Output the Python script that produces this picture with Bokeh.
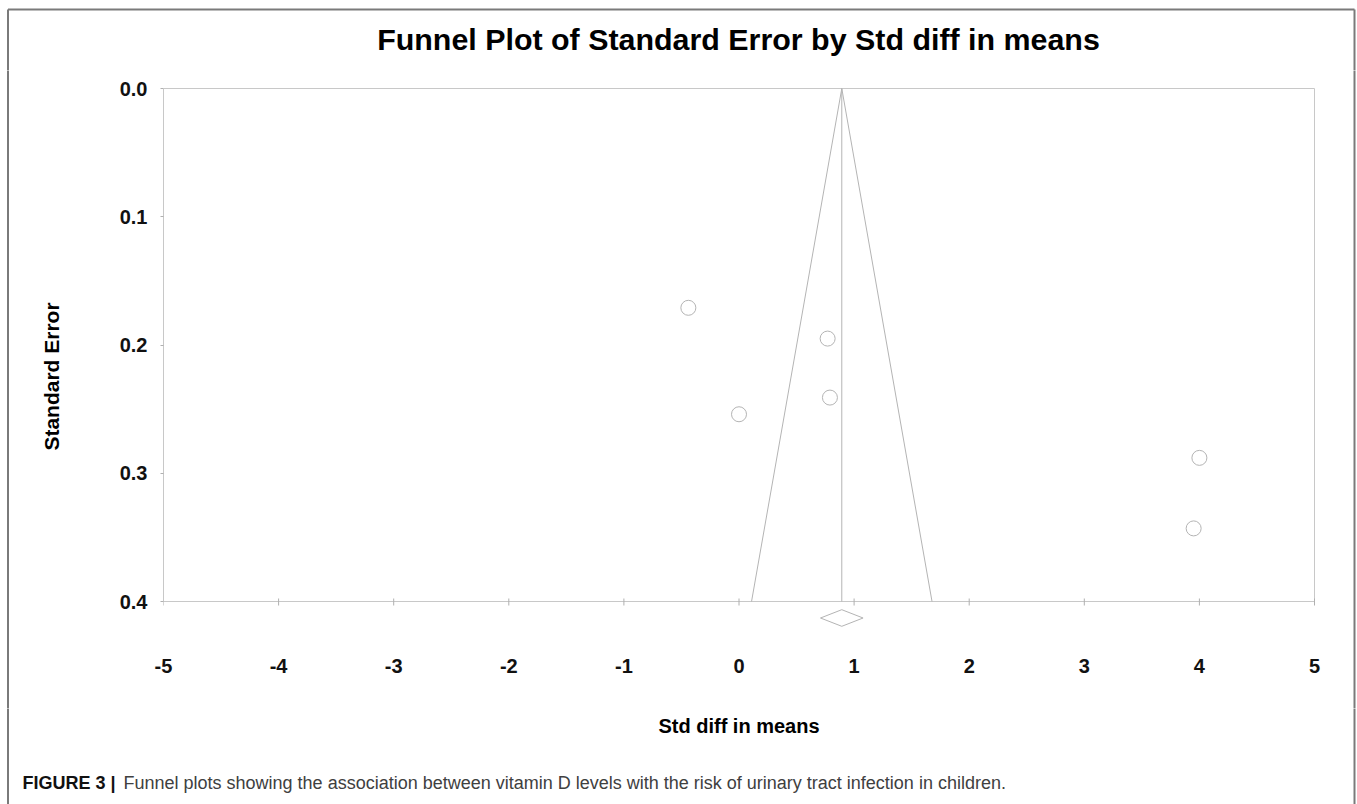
import math
from bokeh.plotting import figure
from bokeh.models import Range1d, FixedTicker
from bokeh.layouts import column, row
from bokeh.core.properties import value
from bokeh.embed import file_html
from bokeh.resources import INLINE

# ---- data ----
study_effect = [-0.44, 0.77, 0.79, 0.00, 4.00, 3.95]       # Std diff in means
study_se = [0.171, 0.195, 0.241, 0.254, 0.288, 0.343]       # Standard error
pooled_effect = 0.893
pooled_ci_low = 0.708
pooled_ci_high = 1.078
funnel_se = [0.0, 0.4]
funnel_left = [0.893, 0.109]
funnel_right = [0.893, 1.677]
x_ticks = [-5, -4, -3, -2, -1, 0, 1, 2, 3, 4, 5]
x_tick_labels = ["-5", "-4", "-3", "-2", "-1", "0", "1", "2", "3", "4", "5"]
y_ticks = [0.0, 0.1, 0.2, 0.3, 0.4]
y_tick_labels = ["0.0", "0.1", "0.2", "0.3", "0.4"]

title_text = "Funnel Plot of Standard Error by Std diff in means"
x_title = "Std diff in means"
y_title = "Standard Error"
caption_bold = "FIGURE 3 |"
caption_text = ("Funnel plots showing the association between vitamin D levels "
                "with the risk of urinary tract infection in children.")

FONT = "Liberation Sans"
PAGE_W, PAGE_H = 1357, 804
TOP_H = 70          # title strip (page 0..70)
M_H = 558           # plot strip (page 70..628)
D_H = 80            # tick-label strip (page 628..708)
MID_H = M_H + D_H
BOT_H = PAGE_H - TOP_H - MID_H
LEFT_W, RIGHT_W = 75, 9
BORDER = "#7a7a7a"
FRAME = "#c8c8c8"
TICK = "#b0b0b0"
MARK = "#b4b4b4"
BL, BR, BT = 7.5, 1354, 9   # outer border positions (page px)
EXT = 6                     # border lines run past strip edges (clipped)

KX = 1151 / 10.0    # px per unit of Std diff in means
KY = 513 / 0.4      # px per unit of standard error


def strip(w, h, x0, y0):
    f = figure(width=w, height=h, x_range=Range1d(x0, x0 + w),
               y_range=Range1d(y0 + h, y0), x_axis_location=None,
               y_axis_location=None, min_border=0, toolbar_location=None,
               output_backend="svg")
    f.outline_line_color = None
    f.grid.visible = False
    f.background_fill_color = "white"
    f.border_fill_color = "white"
    return f


def txt(f, x, y, t, size, style="bold", align="center", color="#000000", angle=0.0):
    f.text(x=[x], y=[y], text=[t], text_font=value(FONT), text_font_size=value(size),
           text_font_style=style, text_align=align, text_baseline="alphabetic",
           text_color=color, angle=angle)


def style_labels(ax):
    ax.major_label_text_font = FONT
    ax.major_label_text_font_style = "bold"
    ax.major_label_text_font_size = "20px"
    ax.major_label_text_color = "#111111"
    ax.minor_tick_line_color = None


# ---- title strip ----
T = strip(PAGE_W, TOP_H, 0, 0)
T.line([BL, BR], [BT, BT], line_color=BORDER, line_width=2)
T.line([BL, BL], [BT, TOP_H + EXT], line_color=BORDER, line_width=2)
T.line([BR, BR], [BT, TOP_H + EXT], line_color=BORDER, line_width=2)
txt(T, 738, 38, title_text, "30.4px")

# ---- left strip (y title) ----
L = strip(LEFT_W, MID_H, 0, TOP_H)
L.line([BL, BL], [TOP_H - EXT, TOP_H + MID_H + EXT], line_color=BORDER, line_width=2)
txt(L, 51, 376, y_title, "21px", angle=math.pi / 2)

# ---- right strip ----
R = strip(RIGHT_W, MID_H, PAGE_W - RIGHT_W, TOP_H)
R.line([BR, BR], [TOP_H - EXT, TOP_H + MID_H + EXT], line_color=BORDER, line_width=2)

# ---- main plot: frame reaches a little past the axes so the pooled diamond fits ----
M_W = PAGE_W - LEFT_W - RIGHT_W
BORD_L = 163 - LEFT_W
FRAME_R = 1316 - LEFT_W                    # local x of frame right edge
BORD_R = M_W - FRAME_R
x0, x1 = x_ticks[0], x_ticks[-1]
y_top, y_bot = y_ticks[0], y_ticks[-1]
xr = Range1d(x0, x1 + 2 / KX)
M = figure(width=M_W, height=M_H, output_backend="svg", toolbar_location=None,
           x_range=xr, y_range=Range1d(y_bot + 27 / KY, y_top - 2 / KY),
           x_axis_location=None,
           min_border_left=BORD_L, min_border_right=BORD_R,
           min_border_top=86 - TOP_H, min_border_bottom=0)
M.outline_line_color = None
M.background_fill_color = "white"
M.border_fill_color = "white"
M.grid.visible = False

ya = M.yaxis[0]
ya.bounds = (y_top, y_bot)
ya.ticker = FixedTicker(ticks=y_ticks)
ya.major_label_overrides = {t: s for t, s in zip(y_ticks, y_tick_labels)}
ya.axis_line_color = FRAME
ya.major_tick_line_color = TICK
ya.major_tick_in = 0
ya.major_tick_out = 3
ya.major_label_standoff = 13
style_labels(ya)

# plot box: top, right and bottom (x axis line) edges
M.line([x0, x1], [y_top, y_top], line_color=FRAME, line_width=1)
M.line([x1, x1], [y_top, y_bot], line_color=FRAME, line_width=1)
M.line([x0, x1], [y_bot, y_bot], line_color=FRAME, line_width=1)
# x tick marks crossing the axis line
n = len(x_ticks)
M.segment(x0=x_ticks, y0=[y_bot - 3 / KY] * n, x1=x_ticks, y1=[y_bot + 4 / KY] * n,
          line_color=TICK, line_width=1)

# funnel
M.line([pooled_effect, pooled_effect], funnel_se, line_color=MARK, line_width=1)
M.line(funnel_left, funnel_se, line_color=MARK, line_width=1)
M.line(funnel_right, funnel_se, line_color=MARK, line_width=1)

# studies
M.scatter(study_effect, study_se, marker="circle", size=15, fill_color=None,
          line_color=MARK, line_width=1)

# pooled estimate diamond just below the axis
dc = y_bot + 16.5 / KY
dh = 8.3 / KY
M.patch([pooled_ci_low, pooled_effect, pooled_ci_high, pooled_effect],
        [dc, dc - dh, dc, dc + dh], fill_color=None, line_color=MARK, line_width=1)

# ---- tick-label strip (shares the x scale) ----
D = figure(width=M_W, height=D_H, output_backend="svg", toolbar_location=None,
           x_range=xr, y_range=Range1d(0, 1), y_axis_location=None,
           min_border_left=BORD_L, min_border_right=BORD_R,
           min_border_top=0, min_border_bottom=D_H - 1)
D.outline_line_color = None
D.background_fill_color = "white"
D.border_fill_color = "white"
D.grid.visible = False
da = D.xaxis[0]
da.ticker = FixedTicker(ticks=x_ticks)
da.major_label_overrides = {t: s for t, s in zip(x_ticks, x_tick_labels)}
da.axis_line_color = None
da.major_tick_line_color = None
da.major_tick_in = 0
da.major_tick_out = 0
da.major_label_standoff = 29
style_labels(da)

# ---- bottom strip (x title + caption) ----
yb = TOP_H + MID_H
C = strip(PAGE_W, BOT_H, 0, yb)
C.line([BL, BL], [yb - EXT, PAGE_H + EXT], line_color=BORDER, line_width=2)
C.line([BR, BR], [yb - EXT, PAGE_H + EXT], line_color=BORDER, line_width=2)
txt(C, 738.5, 725, x_title, "20px")
txt(C, 22, 782, caption_bold, "18px", align="left", color="#111111")
txt(C, 123, 782, caption_text, "18px", style="normal", align="left", color="#404040")

layout = column(T, row(L, column(M, D), R), C)
open("out.html", "w").write(file_html(layout, INLINE))
